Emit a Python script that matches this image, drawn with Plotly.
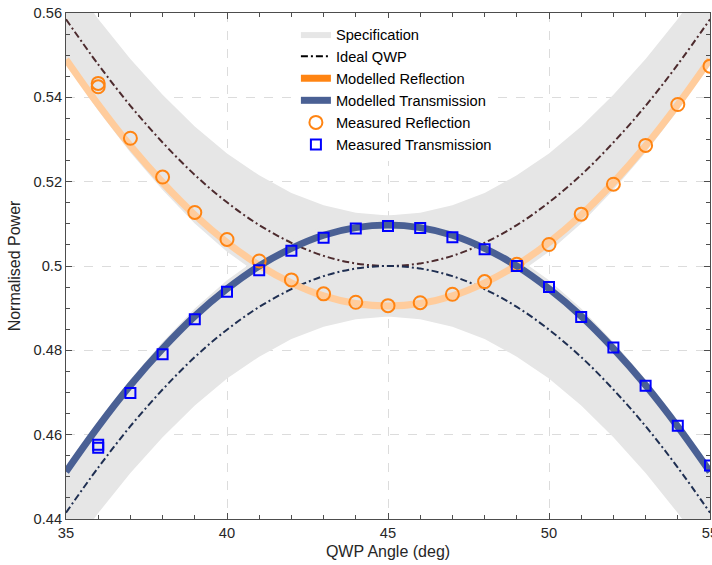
import plotly.graph_objects as go

# ---------------- data ----------------
angle = [35, 36, 37, 38, 39, 40, 41, 42, 43, 44, 45, 46, 47, 48, 49, 50, 51, 52, 53, 54, 55]

spec_upper_top = [0.5691, 0.5586, 0.5491, 0.5406, 0.5331, 0.5267, 0.5215, 0.5173, 0.5144, 0.5126, 0.5120,
                  0.5126, 0.5144, 0.5173, 0.5215, 0.5267, 0.5331, 0.5406, 0.5491, 0.5586, 0.5691]
spec_upper_bot = [0.5479, 0.5369, 0.5269, 0.5180, 0.5101, 0.5034, 0.4979, 0.4936, 0.4905, 0.4886, 0.4880,
                  0.4886, 0.4905, 0.4936, 0.4979, 0.5034, 0.5101, 0.5180, 0.5269, 0.5369, 0.5479]
spec_lower_top = [0.4521, 0.4631, 0.4731, 0.4820, 0.4899, 0.4966, 0.5021, 0.5064, 0.5095, 0.5114, 0.5120,
                  0.5114, 0.5095, 0.5064, 0.5021, 0.4966, 0.4899, 0.4820, 0.4731, 0.4631, 0.4521]
spec_lower_bot = [0.4309, 0.4414, 0.4509, 0.4594, 0.4669, 0.4733, 0.4785, 0.4827, 0.4856, 0.4874, 0.4880,
                  0.4874, 0.4856, 0.4827, 0.4785, 0.4733, 0.4669, 0.4594, 0.4509, 0.4414, 0.4309]

ideal_refl = [0.5585, 0.5478, 0.5380, 0.5293, 0.5216, 0.5151, 0.5097, 0.5055, 0.5024, 0.5006, 0.5000,
              0.5006, 0.5024, 0.5055, 0.5097, 0.5151, 0.5216, 0.5293, 0.5380, 0.5478, 0.5585]
ideal_trans = [0.4415, 0.4522, 0.4620, 0.4707, 0.4784, 0.4849, 0.4903, 0.4945, 0.4976, 0.4994, 0.5000,
               0.4994, 0.4976, 0.4945, 0.4903, 0.4849, 0.4784, 0.4707, 0.4620, 0.4522, 0.4415]

model_refl = [0.5490, 0.5383, 0.5285, 0.5198, 0.5121, 0.5056, 0.5002, 0.4960, 0.4929, 0.4911, 0.4905,
              0.4911, 0.4929, 0.4960, 0.5002, 0.5056, 0.5121, 0.5198, 0.5285, 0.5383, 0.5490]
model_trans = [0.4512, 0.4619, 0.4717, 0.4804, 0.4881, 0.4946, 0.5000, 0.5042, 0.5073, 0.5091, 0.5097,
               0.5091, 0.5073, 0.5042, 0.5000, 0.4946, 0.4881, 0.4804, 0.4717, 0.4619, 0.4512]

meas_angle = [36, 36, 37, 38, 39, 40, 41, 42, 43, 44, 45, 46, 47, 48, 49, 50, 51, 52, 53, 54, 55]
meas_refl = [0.5433, 0.5425, 0.5303, 0.5211, 0.5127, 0.5063, 0.5012, 0.4967, 0.4934, 0.4914, 0.4906,
             0.4913, 0.4933, 0.4963, 0.5004, 0.5051, 0.5123, 0.5194, 0.5286, 0.5383, 0.5474]
meas_trans = [0.4576, 0.4569, 0.4699, 0.4791, 0.4874, 0.4939, 0.4990, 0.5036, 0.5067, 0.5089, 0.5095,
              0.5090, 0.5068, 0.5040, 0.5000, 0.4950, 0.4879, 0.4807, 0.4716, 0.4621, 0.4527]

y_ticks = [0.44, 0.46, 0.48, 0.50, 0.52, 0.54, 0.56]
y_tick_text = ["0.44", "0.46", "0.48", "0.5", "0.52", "0.54", "0.56"]
x_ticks = [35, 40, 45, 50, 55]
x_tick_text = ["35", "40", "45", "50", "55"]

# ---------------- styles ----------------
FONT = "Liberation Sans, Arial, sans-serif"
SPEC = "#e6e6e6"
ORANGE = "#ff8412"
ORANGE_LIGHT = "#ffcc9c"
BLUE_MODEL = "#4a6094"
DASHDOT = "7px,3px,2px,3px"

fig = go.Figure()

# specification bands
fig.add_trace(go.Scatter(
    x=angle + angle[::-1], y=spec_upper_top + spec_upper_bot[::-1],
    fill="toself", fillcolor=SPEC, line=dict(width=0), mode="lines",
    name="Specification", showlegend=True, hoverinfo="skip"))
fig.add_trace(go.Scatter(
    x=angle + angle[::-1], y=spec_lower_top + spec_lower_bot[::-1],
    fill="toself", fillcolor=SPEC, line=dict(width=0), mode="lines",
    name="Specification", showlegend=False, hoverinfo="skip"))

# ideal QWP
fig.add_trace(go.Scatter(x=angle, y=ideal_refl, mode="lines",
                         line=dict(color="#4d2b2e", width=2, dash=DASHDOT, shape="spline"),
                         showlegend=False))
fig.add_trace(go.Scatter(x=angle, y=ideal_trans, mode="lines",
                         line=dict(color="#1f2f52", width=2, dash=DASHDOT, shape="spline"),
                         showlegend=False))
fig.add_trace(go.Scatter(x=[None], y=[None], mode="lines",
                         line=dict(color="black", width=2, dash=DASHDOT),
                         name="Ideal QWP"))

# modelled
fig.add_trace(go.Scatter(x=angle, y=model_refl, mode="lines",
                         line=dict(color=ORANGE_LIGHT, width=7, shape="spline"),
                         showlegend=False))
fig.add_trace(go.Scatter(x=[None], y=[None], mode="lines",
                         line=dict(color=ORANGE, width=7),
                         name="Modelled Reflection"))
fig.add_trace(go.Scatter(x=angle, y=model_trans, mode="lines",
                         line=dict(color=BLUE_MODEL, width=7, shape="spline"),
                         name="Modelled Transmission"))

# measured
fig.add_trace(go.Scatter(x=meas_angle, y=meas_refl, mode="markers",
                         marker=dict(symbol="circle-open", size=13, color=ORANGE, line=dict(width=2)),
                         name="Measured Reflection"))
fig.add_trace(go.Scatter(x=meas_angle, y=meas_trans, mode="markers",
                         marker=dict(symbol="square-open", size=10, color="#0000ff", line=dict(width=2)),
                         name="Measured Transmission"))

axis_common = dict(
    showline=True, linecolor="#4d4d4d", linewidth=1, mirror="ticks",
    ticks="inside", ticklen=6, tickcolor="#4d4d4d", tickwidth=1,
    showgrid=True, gridcolor="#dcdcdc", griddash="dash", gridwidth=1,
    zeroline=False, tickfont=dict(family=FONT, size=14.67, color="#262626"),
    ticklabeloverflow="allow", automargin=False,
)

fig.update_xaxes(range=[35, 55], tickvals=x_ticks, ticktext=x_tick_text,
                 minor=dict(ticks="inside", dtick=1, tick0=35, ticklen=4, tickcolor="#4d4d4d", showgrid=False),
                 title=dict(text="QWP Angle (deg)", font=dict(family=FONT, size=16, color="#262626"), standoff=6),
                 **axis_common)
fig.update_yaxes(range=[0.44, 0.56], tickvals=y_ticks, ticktext=y_tick_text,
                 minor=dict(ticks="inside", dtick=0.005, tick0=0.44, ticklen=4, tickcolor="#4d4d4d", showgrid=False),
                 title=dict(text="Normalised Power", font=dict(family=FONT, size=16, color="#262626"), standoff=8),
                 **axis_common)

fig.update_layout(
    width=712, height=565,
    margin=dict(l=66, r=2, t=13, b=46),
    plot_bgcolor="white", paper_bgcolor="white",
    font=dict(family=FONT, color="#262626"),
    legend=dict(x=0.357, y=0.99, xanchor="left", yanchor="top",
                bgcolor="white", borderwidth=0,
                font=dict(family=FONT, size=14.67, color="black")),
)

fig.write_html("out.html")
